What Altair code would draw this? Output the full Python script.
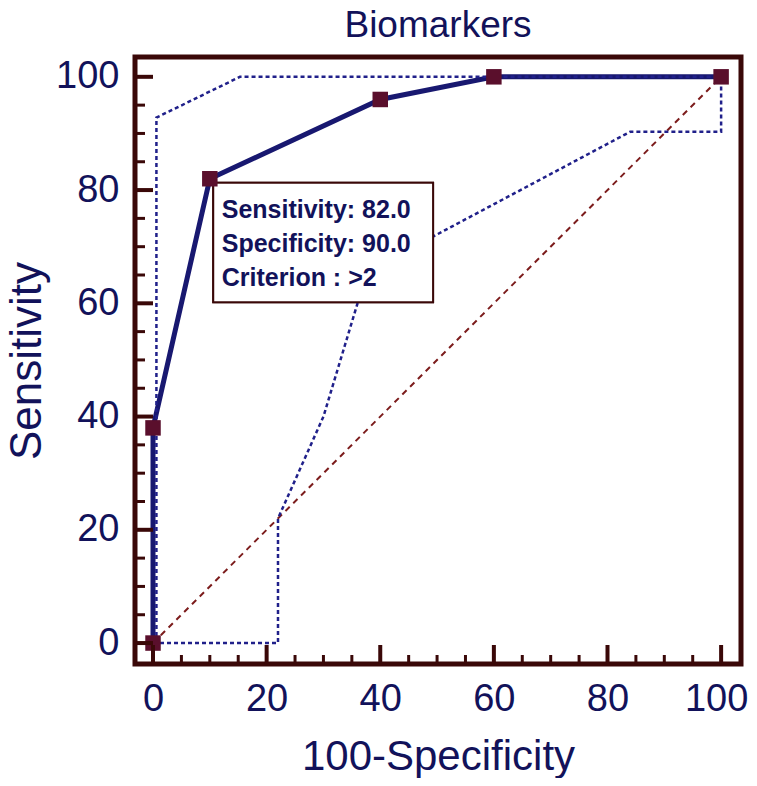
import altair as alt
import pandas as pd

# ---- data ----
fpr = [0, 0, 10, 40, 60, 100]          # 100-Specificity of ROC points
tpr = [0, 38, 82, 96, 100, 100]        # Sensitivity of ROC points
upper_x = [0.6, 0.6, 15.3, 100]
upper_y = [0, 92.8, 100, 100]
lower_x = [0, 22, 22, 26, 30, 33, 36, 40, 45, 84, 100, 100]
lower_y = [0, 0, 22, 31, 40, 50, 60, 66, 69.5, 90.3, 90.3, 100]
diag_x = [0, 100]
diag_y = [0, 100]
tick_values = [0, 20, 40, 60, 80, 100]
minor_step = 5
best_index = 2
criterion = ">2"

# ---- styling / layout ----
NAVY = "#12125a"
LINE = "#181870"
DOT = "#20208a"
MARK = "#5a0f2c"
FRAME = "#3a0808"
DIAG = "#7c1c1c"
FONT = "Liberation Sans"
W, H = 606, 607
XD = [-3.17, 103.5]
YD = [-3.7, 103.5]
kx = (XD[1] - XD[0]) / W
ky = (YD[1] - YD[0]) / H

xs = alt.Scale(domain=XD, nice=False, zero=False)
ys = alt.Scale(domain=YD, nice=False, zero=False)

x_axis = alt.Axis(values=tick_values, title="100-Specificity", grid=False, domain=False,
                  ticks=False, tickSize=0, labelFont=FONT, labelFontSize=38, labelColor=NAVY,
                  labelPadding=16, labelFlush=False,
                  labelOffset={"condition": {"test": "datum.value == 100", "value": -5}, "value": 0},
                  titleFont=FONT, titleFontSize=42,
                  titleFontWeight="normal", titleColor=NAVY, titleX=W / 2, titleY=105,
                  titleAlign="center", titleBaseline="alphabetic")
y_axis = alt.Axis(values=tick_values, title="Sensitivity", grid=False, domain=False,
                  ticks=False, tickSize=0, labelFont=FONT, labelFontSize=38, labelColor=NAVY,
                  labelPadding=16, labelFlush=False, titleFont=FONT, titleFontSize=44,
                  titleFontWeight="normal", titleColor=NAVY, titleAngle=270, titleX=-95,
                  titleY=H / 2, titleAlign="center", titleBaseline="alphabetic")


def X(f):
    return alt.X(f, type="quantitative", scale=xs, axis=x_axis)


def Y(f):
    return alt.Y(f, type="quantitative", scale=ys, axis=y_axis)


roc = pd.DataFrame({"x": fpr, "y": tpr, "i": range(len(fpr))})
up = pd.DataFrame({"x": upper_x, "y": upper_y, "i": range(len(upper_x))})
lo = pd.DataFrame({"x": lower_x, "y": lower_y, "i": range(len(lower_x))})
dg = pd.DataFrame({"x": diag_x, "y": diag_y, "i": range(len(diag_x))})

diag = alt.Chart(dg).mark_line(color=DIAG, strokeWidth=2, strokeDash=[6, 5]).encode(
    x=X("x"), y=Y("y"), order="i:Q")
curve = alt.Chart(roc).mark_line(color=LINE, strokeWidth=5).encode(
    x=X("x"), y=Y("y"), order="i:Q")
upper = alt.Chart(up).mark_line(color=DOT, strokeWidth=2.5, strokeDash=[4, 3]).encode(
    x=X("x"), y=Y("y"), order="i:Q")
lower = alt.Chart(lo).mark_line(color=DOT, strokeWidth=2.5, strokeDash=[4, 3]).encode(
    x=X("x"), y=Y("y"), order="i:Q")
points = alt.Chart(roc).mark_square(color=MARK, opacity=1, size=240).encode(
    x=X("x"), y=Y("y"))

# annotation box
bx, by = fpr[best_index], tpr[best_index]
box_df = pd.DataFrame({"x": [bx + 0.6], "x2": [bx + 39.3], "y": [by - 0.7], "y2": [by - 21.8]})
box = alt.Chart(box_df).mark_rect(fill="white", stroke=FRAME, strokeWidth=2).encode(
    x=X("x"), x2="x2", y=Y("y"), y2="y2")
lines = [f"Sensitivity: {by:.1f}", f"Specificity: {100 - bx:.1f}", f"Criterion : {criterion}"]
txt_df = pd.DataFrame({"x": [bx + 2.1] * 3, "y": [by - 6.9, by - 12.9, by - 18.9], "t": lines})
text = alt.Chart(txt_df).mark_text(align="left", baseline="alphabetic", font=FONT, fontSize=25,
                                   fontWeight="bold", color=NAVY).encode(
    x=X("x"), y=Y("y"), text="t:N")

# inward ticks
minor = list(range(0, 101, minor_step))
lt = pd.DataFrame({"v": minor,
                   "a": [XD[0]] * len(minor),
                   "b": [XD[0] + (18 if v in tick_values else 10) * kx for v in minor],
                   "w": [4 if v in tick_values else 3 for v in minor]})
bt = pd.DataFrame({"v": minor,
                   "a": [YD[0]] * len(minor),
                   "b": [YD[0] + (19 if v in tick_values else 9) * ky for v in minor],
                   "w": [4 if v in tick_values else 3 for v in minor]})
lticks = alt.Chart(lt).mark_rule(color=FRAME).encode(
    y=Y("v"), x=X("a"), x2="b", strokeWidth=alt.StrokeWidth("w:Q", scale=None))
bticks = alt.Chart(bt).mark_rule(color=FRAME).encode(
    x=X("v"), y=Y("a"), y2="b", strokeWidth=alt.StrokeWidth("w:Q", scale=None))

chart = alt.layer(diag, curve, box, upper, lower, box, points, text, lticks, bticks).properties(
    width=W, height=H,
    background="white",
    title=alt.TitleParams("Biomarkers", font=FONT, fontSize=37, fontWeight="normal",
                          color=NAVY, anchor="middle", offset=12),
    autosize=alt.AutoSizeParams(type="none"),
    padding={"left": 127, "top": 49, "right": 8, "bottom": 114},
).configure_view(stroke=FRAME, strokeWidth=5)

chart.save("out.html", embed_options={"renderer": "svg", "actions": False})
